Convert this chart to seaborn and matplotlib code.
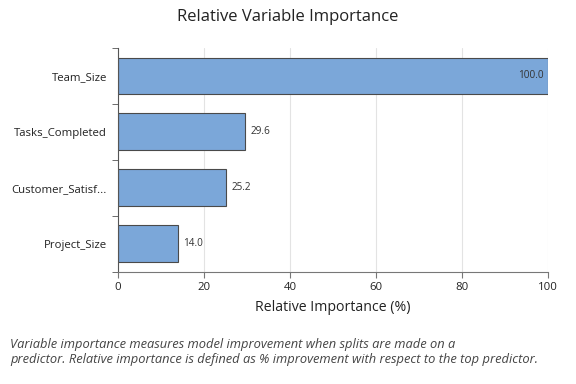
import numpy as np
import pandas as pd
import seaborn as sns
import matplotlib.pyplot as plt
from matplotlib.ticker import FixedLocator

sns.set_style('white')
plt.rcParams['font.family'] = ['Open Sans', 'DejaVu Sans']

variables = ['Team_Size', 'Tasks_Completed', 'Customer_Satisf...', 'Project_Size']
importance = [100.0, 29.6, 25.2, 14.0]
x_ticks = [0, 20, 40, 60, 80, 100]

df = pd.DataFrame({'variable': variables, 'importance': importance})

fig = plt.figure(figsize=(5.76, 3.84), dpi=100)
ax = fig.add_axes([0.205, 0.292, 0.746, 0.583])

sns.barplot(data=df, x='importance', y='variable', orient='h', color='#7BA7D9',
            edgecolor='#4a4a4a', linewidth=0.8, width=0.66, saturation=1, ax=ax)

ax.set_xlim(0, 100)
ax.set_ylim(3.5, -0.5)
ax.set_xticks(x_ticks)
ax.xaxis.grid(True, color='#e3e3e3', linewidth=0.8)
ax.set_axisbelow(True)

# ticks between categories on the left spine
ax.yaxis.set_minor_locator(FixedLocator(np.arange(-0.5, len(variables), 1.0)))
ax.tick_params(axis='y', which='major', length=0, labelsize=8.2, colors='#222222', pad=8)
ax.tick_params(axis='y', which='minor', length=4, color='#555555', left=True)
ax.tick_params(axis='x', length=4, color='#777777', labelsize=8.2, labelcolor='#222222', bottom=True)

for side in ['top', 'right']:
    ax.spines[side].set_visible(False)
ax.spines['left'].set_color('#555555')
ax.spines['bottom'].set_color('#777777')

for i, v in enumerate(importance):
    if v >= 90:
        ax.text(v - 1, i, f'{v:.1f}', va='center', ha='right', fontsize=7.2, color='#333333')
    else:
        ax.text(v + 1.2, i, f'{v:.1f}', va='center', ha='left', fontsize=7.2, color='#333333')

ax.set_xlabel('Relative Importance (%)', fontsize=10.2, color='#222222', labelpad=5)
ax.set_ylabel('')

fig.text(0.5, 0.955, 'Relative Variable Importance', ha='center', va='center',
         fontsize=12, color='#222222')
fig.text(0.017, 0.083, 'Variable importance measures model improvement when splits are made on a\n'
         'predictor. Relative importance is defined as % improvement with respect to the top predictor.',
         ha='left', va='center', fontsize=9.3, style='italic', color='#444444', linespacing=1.15)

fig.savefig('out.png', dpi=100)
